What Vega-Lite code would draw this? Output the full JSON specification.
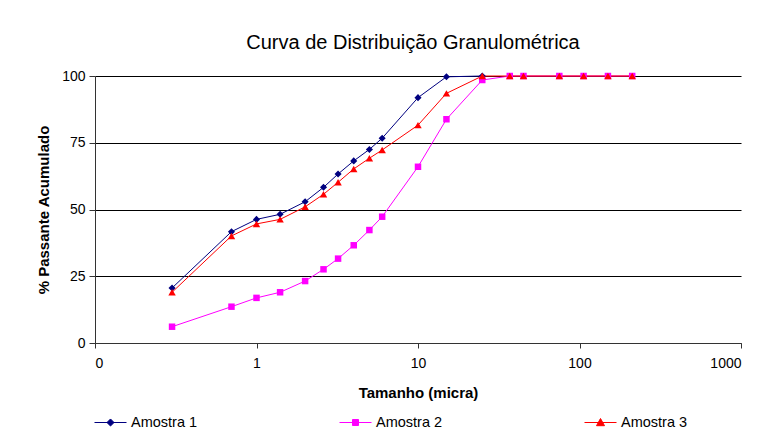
{
  "$schema": "https://vega.github.io/schema/vega-lite/v6.json",
  "autosize": "none",
  "width": 646,
  "height": 267,
  "padding": {"left": 95, "top": 76, "right": 33, "bottom": 91},
  "background": "white",
  "config": {
    "view": {"stroke": null},
    "font": "Liberation Sans"
  },
  "title": {
    "text": "Curva de Distribuição Granulométrica",
    "anchor": "middle",
    "font": "Liberation Sans",
    "fontSize": 20,
    "fontWeight": "normal",
    "color": "black",
    "offset": 16,
    "dx": -5
  },
  "data": {
    "values": [
      {"s": "Amostra 1", "x": 0.3, "y": 20.6},
      {"s": "Amostra 1", "x": 0.7, "y": 41.7},
      {"s": "Amostra 1", "x": 1, "y": 46.3},
      {"s": "Amostra 1", "x": 1.4, "y": 48.2},
      {"s": "Amostra 1", "x": 2, "y": 52.9},
      {"s": "Amostra 1", "x": 2.6, "y": 58.3},
      {"s": "Amostra 1", "x": 3.2, "y": 63.3},
      {"s": "Amostra 1", "x": 4, "y": 68.2},
      {"s": "Amostra 1", "x": 5, "y": 72.5},
      {"s": "Amostra 1", "x": 6, "y": 76.7},
      {"s": "Amostra 1", "x": 10, "y": 91.9},
      {"s": "Amostra 1", "x": 15, "y": 99.7},
      {"s": "Amostra 1", "x": 25, "y": 100},
      {"s": "Amostra 2", "x": 0.3, "y": 6.1},
      {"s": "Amostra 2", "x": 0.7, "y": 13.6},
      {"s": "Amostra 2", "x": 1, "y": 16.9},
      {"s": "Amostra 2", "x": 1.4, "y": 19.0},
      {"s": "Amostra 2", "x": 2, "y": 23.2},
      {"s": "Amostra 2", "x": 2.6, "y": 27.6},
      {"s": "Amostra 2", "x": 3.2, "y": 31.6},
      {"s": "Amostra 2", "x": 4, "y": 36.6},
      {"s": "Amostra 2", "x": 5, "y": 42.3},
      {"s": "Amostra 2", "x": 6, "y": 47.3},
      {"s": "Amostra 2", "x": 10, "y": 66.0},
      {"s": "Amostra 2", "x": 15, "y": 83.8},
      {"s": "Amostra 2", "x": 25, "y": 98.5},
      {"s": "Amostra 2", "x": 37, "y": 100},
      {"s": "Amostra 2", "x": 45, "y": 100},
      {"s": "Amostra 2", "x": 75, "y": 100},
      {"s": "Amostra 2", "x": 106, "y": 100},
      {"s": "Amostra 2", "x": 150, "y": 100},
      {"s": "Amostra 2", "x": 212, "y": 100},
      {"s": "Amostra 3", "x": 0.3, "y": 19.0},
      {"s": "Amostra 3", "x": 0.7, "y": 40.1},
      {"s": "Amostra 3", "x": 1, "y": 44.6},
      {"s": "Amostra 3", "x": 1.4, "y": 46.3},
      {"s": "Amostra 3", "x": 2, "y": 51.0},
      {"s": "Amostra 3", "x": 2.6, "y": 55.7},
      {"s": "Amostra 3", "x": 3.2, "y": 60.2},
      {"s": "Amostra 3", "x": 4, "y": 65.2},
      {"s": "Amostra 3", "x": 5, "y": 69.2},
      {"s": "Amostra 3", "x": 6, "y": 72.3},
      {"s": "Amostra 3", "x": 10, "y": 81.6},
      {"s": "Amostra 3", "x": 15, "y": 93.5},
      {"s": "Amostra 3", "x": 25, "y": 100},
      {"s": "Amostra 3", "x": 37, "y": 100},
      {"s": "Amostra 3", "x": 45, "y": 100},
      {"s": "Amostra 3", "x": 75, "y": 100},
      {"s": "Amostra 3", "x": 106, "y": 100},
      {"s": "Amostra 3", "x": 150, "y": 100},
      {"s": "Amostra 3", "x": 212, "y": 100}
    ]
  },
  "encoding": {
    "x": {
      "field": "x",
      "type": "quantitative",
      "scale": {"type": "log", "domain": [0.1, 1000], "nice": false},
      "axis": {
        "title": "Tamanho (micra)",
        "values": [0.1, 1, 10, 100, 1000],
        "labelExpr": "datum.value < 1 ? '0' : format(datum.value, 'd')",
        "grid": false,
        "domainColor": "#333333",
        "tickColor": "#333333",
        "tickSize": 5,
        "labelPadding": 8,
        "labelFont": "Liberation Sans",
        "labelFontSize": 14,
        "labelColor": "black",
        "titleFont": "Liberation Sans",
        "titleFontSize": 15,
        "titleFontWeight": "bold",
        "titleColor": "black",
        "titlePadding": 15
      }
    },
    "y": {
      "field": "y",
      "type": "quantitative",
      "scale": {"domain": [0, 100], "nice": false},
      "axis": {
        "title": "% Passante Acumulado",
        "values": [0, 25, 50, 75, 100],
        "grid": true,
        "gridColor": "black",
        "gridWidth": 1.2,
        "gridOpacity": 1,
        "domainColor": "#333333",
        "tickColor": "#333333",
        "tickSize": 6,
        "labelPadding": 4,
        "labelFont": "Liberation Sans",
        "labelFontSize": 14,
        "labelColor": "black",
        "titleFont": "Liberation Sans",
        "titleFontSize": 15,
        "titleFontWeight": "bold",
        "titleColor": "black",
        "titlePadding": 10
      }
    },
    "color": {
      "field": "s",
      "type": "nominal",
      "scale": {"domain": ["Amostra 1", "Amostra 2", "Amostra 3"], "range": ["#000080", "#FF00FF", "#FF0000"]},
      "legend": {
        "title": null,
        "orient": "none",
        "direction": "horizontal",
        "legendX": 7,
        "legendY": 338,
        "symbolSize": 256,
        "labelOffset": 12,
        "columnPadding": 139,
        "labelFont": "Liberation Sans",
        "labelFontSize": 14.5,
        "labelColor": "black",
        "encode": {
          "symbols": {
            "update": {
              "shape": {"signal": "datum.value === 'Amostra 1' ? 'M-2,0H2M0,-0.44L0.44,0L0,0.44L-0.44,0Z' : datum.value === 'Amostra 2' ? 'M-2,0H2M-0.375,-0.375H0.375V0.375H-0.375Z' : 'M-2,0H2M0,-0.5L0.5,0.4H-0.5Z'"},
              "fill": {"scale": "color", "field": "value"},
              "stroke": {"scale": "color", "field": "value"},
              "strokeWidth": {"value": 1},
              "opacity": {"value": 1}
            }
          }
        }
      }
    }
  },
  "layer": [
    {
      "mark": {"type": "line", "strokeWidth": 1}
    },
    {
      "transform": [{"filter": "datum.s === 'Amostra 1'"}],
      "mark": {"type": "point", "filled": true, "opacity": 1, "shape": "diamond", "size": 50}
    },
    {
      "transform": [{"filter": "datum.s === 'Amostra 2'"}],
      "mark": {"type": "point", "filled": true, "opacity": 1, "shape": "square", "size": 42}
    },
    {
      "transform": [{"filter": "datum.s === 'Amostra 3'"}],
      "mark": {"type": "point", "filled": true, "opacity": 1, "shape": "triangle-up", "size": 55}
    }
  ]
}
